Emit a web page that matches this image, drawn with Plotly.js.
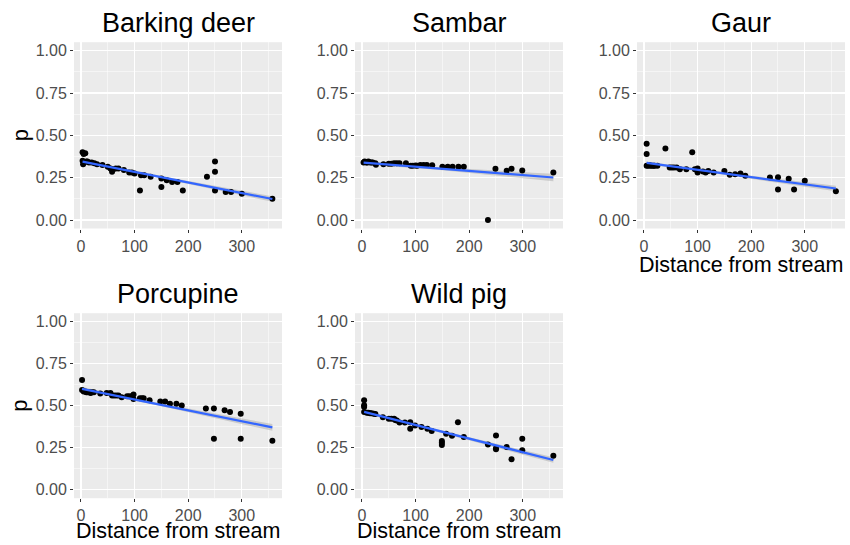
<!DOCTYPE html>
<html><head><meta charset="utf-8">
<script src="https://cdn.plot.ly/plotly-3.0.1.min.js"></script>
<style>html,body{margin:0;padding:0;background:#fff}#chart{width:850px;height:545px}</style>
</head><body><div id="chart"></div>
<script>
const species = ["Barking deer", "Sambar", "Gaur", "Porcupine", "Wild pig"];

const barkX = [3, 5, 8, 3, 5, 4, 10, 12, 15, 20, 25, 30, 40, 50, 55, 58, 60, 65, 70, 80, 90, 95, 100, 110, 112, 118, 130, 150, 150, 160, 170, 180, 190, 235, 250, 250, 250, 270, 280, 300, 357];
const barkY = [0.40, 0.39, 0.395, 0.35, 0.34, 0.33, 0.345, 0.345, 0.34, 0.34, 0.335, 0.33, 0.325, 0.315, 0.305, 0.285, 0.30, 0.305, 0.305, 0.295, 0.28, 0.28, 0.275, 0.175, 0.265, 0.265, 0.255, 0.245, 0.195, 0.235, 0.225, 0.225, 0.175, 0.255, 0.345, 0.285, 0.175, 0.165, 0.165, 0.155, 0.125];

const sambarX = [3, 5, 8, 10, 12, 15, 18, 20, 25, 26, 40, 50, 55, 60, 65, 70, 82, 91, 95, 100, 103, 109, 115, 121, 131, 150, 160, 169, 180, 190, 235, 249, 270, 279, 299, 357];
const sambarY = [0.34, 0.345, 0.34, 0.34, 0.345, 0.34, 0.34, 0.34, 0.335, 0.327, 0.33, 0.333, 0.333, 0.335, 0.335, 0.335, 0.335, 0.32, 0.32, 0.322, 0.32, 0.325, 0.325, 0.325, 0.323, 0.315, 0.315, 0.315, 0.315, 0.315, 0.0, 0.303, 0.291, 0.303, 0.293, 0.281];

const gaurX = [5, 5, 5, 8, 10, 12, 15, 18, 20, 25, 40, 48, 52, 56, 61, 67, 79, 90, 95, 100, 100, 110, 115, 120, 130, 150, 160, 170, 180, 189, 235, 250, 250, 270, 280, 300, 358];
const gaurY = [0.451, 0.39, 0.32, 0.32, 0.325, 0.32, 0.32, 0.32, 0.32, 0.32, 0.422, 0.31, 0.31, 0.31, 0.31, 0.30, 0.30, 0.40, 0.30, 0.305, 0.28, 0.287, 0.281, 0.29, 0.281, 0.29, 0.267, 0.27, 0.275, 0.261, 0.251, 0.253, 0.18, 0.244, 0.18, 0.232, 0.17];

const porcX = [2, 2, 5, 8, 10, 12, 15, 18, 20, 24, 36, 48, 55, 58, 62, 66, 70, 76, 86, 90, 95, 98, 98, 110, 114, 117, 128, 148, 157, 166, 178, 188, 233, 248, 248, 268, 278, 298, 298, 357];
const porcY = [0.653, 0.594, 0.585, 0.585, 0.58, 0.58, 0.58, 0.575, 0.58, 0.58, 0.572, 0.576, 0.576, 0.56, 0.56, 0.56, 0.56, 0.55, 0.556, 0.556, 0.556, 0.566, 0.54, 0.544, 0.544, 0.544, 0.532, 0.525, 0.525, 0.511, 0.511, 0.501, 0.483, 0.483, 0.304, 0.473, 0.462, 0.452, 0.304, 0.292];

const pigX = [4, 4, 4, 4, 9, 12, 15, 18, 22, 25, 39, 50, 55, 60, 62, 65, 70, 80, 90, 90, 99, 111, 122, 130, 149, 149, 149, 157, 168, 179, 190, 235, 250, 250, 250, 270, 279, 299, 299, 357];
const pigY = [0.533, 0.503, 0.493, 0.462, 0.458, 0.458, 0.455, 0.455, 0.452, 0.45, 0.432, 0.422, 0.422, 0.422, 0.415, 0.412, 0.40, 0.40, 0.402, 0.363, 0.383, 0.373, 0.363, 0.349, 0.29, 0.28, 0.266, 0.333, 0.321, 0.402, 0.314, 0.27, 0.323, 0.247, 0.241, 0.254, 0.181, 0.304, 0.235, 0.203];

// fitted linear trend: value at smallest and largest distance, and CI half-width at the far end
const fitStart = [0.345, 0.339, 0.337, 0.600, 0.463];
const fitEnd = [0.124, 0.251, 0.186, 0.371, 0.177];
const bandEnd = [0.016, 0.022, 0.016, 0.02, 0.016];

const xTicks = [0, 100, 200, 300];
const yTicks = [0, 0.25, 0.5, 0.75, 1.0];
const xAxisTitle = "Distance from stream";
const yAxisTitle = "p";

const seriesX = [barkX, sambarX, gaurX, porcX, pigX];
const seriesY = [barkY, sambarY, gaurY, porcY, pigY];

const W = 850, H = 545;
const cols = [[74, 282], [355, 563], [637, 845]];
const rows = [[42.2, 228.5], [313.2, 498.2]];
const panelPos = [[0,0],[0,1],[0,2],[1,0],[1,1]];

function trend(x, i) {
  const n = x.length;
  const mx = x.reduce((a,b)=>a+b,0)/n;
  let sxx=0; for (const v of x) sxx += (v-mx)**2;
  const lo = Math.min(...x), hi = Math.max(...x);
  const shape = v => Math.sqrt(1/n + (v-mx)**2/sxx);
  const k = bandEnd[i]/shape(hi);
  const gx=[], gy=[], up=[], dn=[];
  for (let j=0;j<=80;j++){
    const xv = lo + (hi-lo)*j/80;
    const yv = fitStart[i] + (fitEnd[i]-fitStart[i])*(xv-lo)/(hi-lo);
    const w = k*shape(xv);
    gx.push(xv); gy.push(yv); up.push(yv+w); dn.push(yv-w);
  }
  return {gx, gy, up, dn};
}

const data = [], layout = {
  width: W, height: H, margin: {l:0,r:0,t:0,b:0},
  paper_bgcolor: "white", plot_bgcolor: "#EBEBEB",
  showlegend: false, annotations: [], font: {family: "Liberation Sans, Arial, sans-serif"}
};

panelPos.forEach(([r,c], i) => {
  const idx = i===0 ? "" : String(i+1);
  const xa = "x"+idx, ya = "y"+idx;
  const f = trend(seriesX[i], i);
  data.push({x: f.gx.concat(f.gx.slice().reverse()), y: f.up.concat(f.dn.slice().reverse()),
    xaxis: xa, yaxis: ya, type: "scatter", mode: "lines", fill: "toself",
    fillcolor: "rgba(153,153,153,0.4)", line: {width: 0}, hoverinfo: "skip"});
  data.push({x: seriesX[i], y: seriesY[i], xaxis: xa, yaxis: ya, type: "scatter", mode: "markers",
    marker: {color: "black", size: 6}});
  data.push({x: f.gx, y: f.gy, xaxis: xa, yaxis: ya, type: "scatter", mode: "lines",
    line: {color: "#3366FF", width: 2.2}});
  const common = {showline: false, zeroline: false, ticks: "outside", ticklen: 3, tickwidth: 1,
    tickcolor: "#333333", gridcolor: "white", gridwidth: 1.1,
    tickfont: {size: 16, color: "#4D4D4D"}, fixedrange: true};
  layout["xaxis"+idx] = Object.assign({}, common, {
    domain: [cols[c][0]/W, cols[c][1]/W], range: [-13, 375], anchor: ya,
    tickmode: "array", tickvals: xTicks, ticktext: xTicks.map(String),
    minor: {tickvals: [50,150,250,350], showgrid: true, gridcolor: "white", gridwidth: 0.5, ticks: ""}
  });
  layout["yaxis"+idx] = Object.assign({}, common, {
    domain: [1-rows[r][1]/H, 1-rows[r][0]/H], range: [-0.05, 1.05], anchor: xa,
    tickmode: "array", tickvals: yTicks, ticktext: yTicks.map(v=>v.toFixed(2)),
    minor: {tickvals: [0.125,0.375,0.625,0.875], showgrid: true, gridcolor: "white", gridwidth: 0.5, ticks: ""}
  });
  const cx = (cols[c][0]+cols[c][1])/2/W;
  layout.annotations.push({text: species[i], xref: "paper", yref: "paper", x: cx,
    y: 1-(rows[r][0]-19)/H, xanchor: "center", yanchor: "middle", showarrow: false,
    font: {size: 27, color: "black"}});
  if (r===1 || c===2) {
    const ty = r===0 ? rows[r][1]+36 : rows[r][1]+33;
    layout.annotations.push({text: xAxisTitle, xref: "paper", yref: "paper", x: cx,
      y: 1-ty/H, xanchor: "center", yanchor: "middle", showarrow: false,
      font: {size: 21.5, color: "black"}});
  }
  if (c===0) {
    layout.annotations.push({text: yAxisTitle, xref: "paper", yref: "paper", x: 20/W,
      y: 1-(rows[r][0]+rows[r][1])/2/H, xanchor: "center", yanchor: "middle", showarrow: false,
      textangle: -90, font: {size: 22, color: "black"}});
  }
});

Plotly.newPlot("chart", data, layout, {displayModeBar: false, staticPlot: true});
</script></body></html>
